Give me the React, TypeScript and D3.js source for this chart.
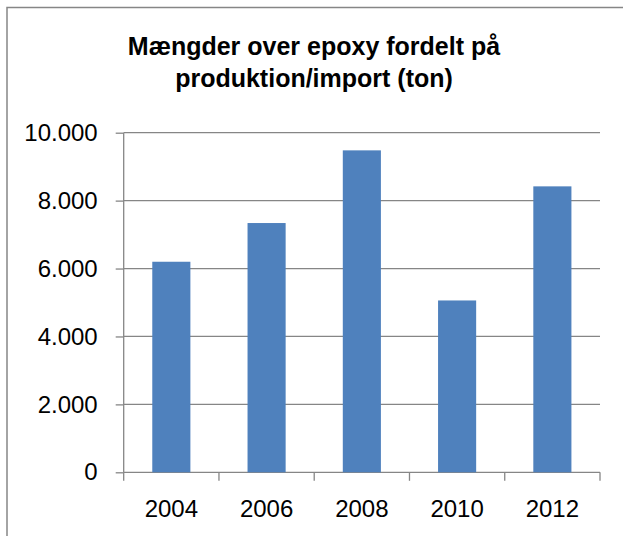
import { useEffect, useRef } from "react";
import * as d3 from "d3";

const years = ["2004", "2006", "2008", "2010", "2012"];
const tons = [6200, 7340, 9480, 5060, 8420];
const yTicks = [0, 2000, 4000, 6000, 8000, 10000];
const titleLines = ["Mængder over epoxy fordelt på", "produktion/import (ton)"];

const width = 623;
const height = 536;

export default function App() {
  const svgRef = useRef<SVGSVGElement>(null);

  useEffect(() => {
    if (!svgRef.current) return;
    const svg = d3.select(svgRef.current);
    svg.selectAll("*").remove();

    const grey = "#868686";
    const font = "'Liberation Sans', Arial, sans-serif";
    const left = 123.7;
    const right = 600;
    const top = 132.7;
    const bottom = 472.3;

    const x = d3
      .scaleBand<string>()
      .domain(years)
      .range([left, right])
      .paddingInner(0.6)
      .paddingOuter(0.3);

    const y = d3.scaleLinear().domain([0, 10000]).range([bottom, top]);

    const fmt = d3
      .formatLocale({ decimal: ",", thousands: ".", grouping: [3], currency: ["", " kr"] })
      .format(",");

    // outer chart frame (runs off right/bottom edge)
    svg
      .append("rect")
      .attr("x", 7)
      .attr("y", 7.5)
      .attr("width", 700)
      .attr("height", 600)
      .attr("fill", "white")
      .attr("stroke", grey)
      .attr("stroke-width", 1.5);

    // title
    const title = svg
      .append("text")
      .attr("text-anchor", "middle")
      .style("font-family", font)
      .style("font-size", "25px")
      .style("font-weight", "700")
      .style("fill", "#000");
    titleLines.forEach((line, i) => {
      title
        .append("tspan")
        .attr("x", 314)
        .attr("y", 55 + i * 32)
        .text(line);
    });

    // gridlines
    svg
      .append("g")
      .selectAll("line")
      .data(yTicks)
      .join("line")
      .attr("x1", left)
      .attr("x2", right)
      .attr("y1", (d) => y(d))
      .attr("y2", (d) => y(d))
      .attr("stroke", grey)
      .attr("stroke-width", 1.3);

    // bars
    svg
      .append("g")
      .selectAll("rect")
      .data(tons)
      .join("rect")
      .attr("x", (_, i) => x(years[i])!)
      .attr("y", (d) => y(d))
      .attr("width", x.bandwidth())
      .attr("height", (d) => bottom - y(d))
      .attr("fill", "#4F81BD");

    // y axis
    const yAxis = svg
      .append("g")
      .attr("transform", `translate(${left},0)`)
      .call(d3.axisLeft(y).tickValues(yTicks).tickSize(8).tickPadding(18).tickFormat((d) => fmt(d as number)));
    yAxis.select(".domain").remove();
    yAxis.selectAll(".tick line").attr("stroke", grey).attr("stroke-width", 1.3);
    yAxis
      .selectAll("text")
      .style("font-family", font)
      .style("font-size", "24px")
      .style("fill", "#000");

    svg
      .append("line")
      .attr("x1", left)
      .attr("x2", left)
      .attr("y1", top)
      .attr("y2", bottom)
      .attr("stroke", grey)
      .attr("stroke-width", 1.3);

    // x axis: ticks at category boundaries
    const step = x.step();
    const bounds = d3.range(years.length + 1).map((i) => left + i * step);
    svg
      .append("g")
      .selectAll("line")
      .data(bounds)
      .join("line")
      .attr("x1", (d) => d)
      .attr("x2", (d) => d)
      .attr("y1", bottom)
      .attr("y2", bottom + 8.5)
      .attr("stroke", grey)
      .attr("stroke-width", 1.3);

    svg
      .append("g")
      .selectAll("text")
      .data(years)
      .join("text")
      .attr("x", (d) => x(d)! + x.bandwidth() / 2)
      .attr("y", 516.5)
      .attr("text-anchor", "middle")
      .style("font-family", font)
      .style("font-size", "24px")
      .style("fill", "#000")
      .text((d) => d);
  }, []);

  return (
    <svg
      ref={svgRef}
      width={width}
      height={height}
      style={{ position: "absolute", left: 0, top: 0, background: "white" }}
    />
  );
}
